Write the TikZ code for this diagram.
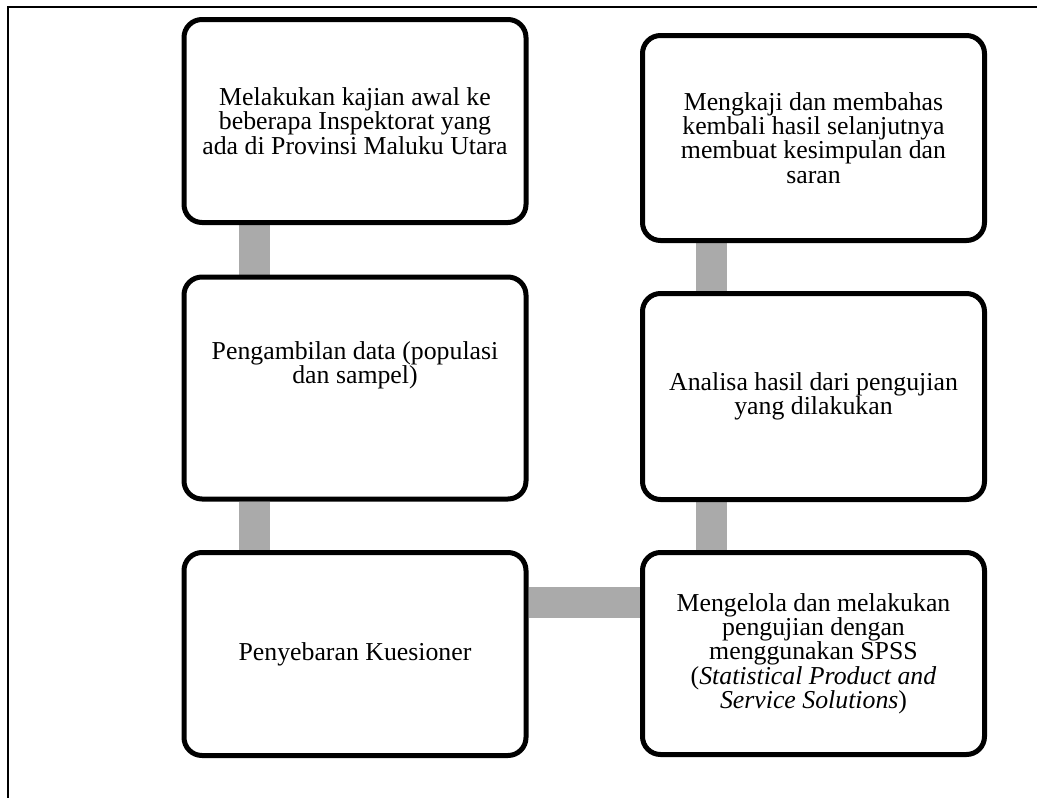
\documentclass[tikz,border=0pt]{standalone}
\usepackage{fontspec}
\setmainfont{Liberation Serif}
\usetikzlibrary{backgrounds}
\definecolor{conngray}{RGB}{170,170,170}
\begin{document}
\begin{tikzpicture}[x=1pt,y=-1pt,
  stepbox/.style={draw=black, line width=5pt, rounded corners=18pt, fill=white,
    minimum width=342pt, align=center, inner sep=0pt,
    font=\fontsize{25.8}{24.3}\selectfont},
  txt/.style={align=center, inner sep=0pt, font=\fontsize{25.8}{24.3}\selectfont},
  conn/.style={draw=conngray, line width=31pt},
  frameline/.style={draw=black, line width=1.5pt}]
\useasboundingbox (0,0) rectangle (1037,798);
\coordinate (fa) at (8,798);
\coordinate (fb) at (8,7);
\coordinate (fc) at (1037,7);
\draw[frameline] (fa) -- (fb) -- (fc);

\node[stepbox, minimum height=203pt] (b1) at (355,121)
  {Melakukan kajian awal ke\\beberapa Inspektorat yang\\ada di Provinsi Maluku Utara};
\node[stepbox, minimum height=222pt] (b2) at (355,388) {};
\node[txt] (t2) at (355,365) {Pengambilan data (populasi\\dan sampel)};
\node[stepbox, minimum height=203pt] (b3) at (355,654) {Penyebaran Kuesioner};

\node[stepbox, minimum height=205pt] (b4) at (813.5,138)
  {Mengkaji dan membahas\\kembali hasil selanjutnya\\membuat kesimpulan dan\\saran};
\node[stepbox, minimum height=206pt] (b5) at (813.5,396.5)
  {Analisa hasil dari pengujian\\yang dilakukan};
\node[stepbox, minimum height=202pt] (b6) at (813.5,653.5)
  {Mengelola dan melakukan\\pengujian dengan\\menggunakan SPSS\\(\textit{Statistical Product and}\\\textit{Service Solutions})};

\begin{scope}[on background layer]
\draw[conn] ([xshift=72.5pt]b1.south west) -- ([xshift=72.5pt]b2.north west);
\draw[conn] ([xshift=72.5pt]b2.south west) -- ([xshift=72.5pt]b3.north west);
\draw[conn] ([yshift=52pt]b3.east) -- ([yshift=52pt]b3.east -| b6.west);
\draw[conn] ([xshift=71.5pt]b6.north west) -- ([xshift=71.5pt]b5.south west);
\draw[conn] ([xshift=71.5pt]b5.north west) -- ([xshift=71.5pt]b4.south west);
\end{scope}
\end{tikzpicture}
\end{document}
